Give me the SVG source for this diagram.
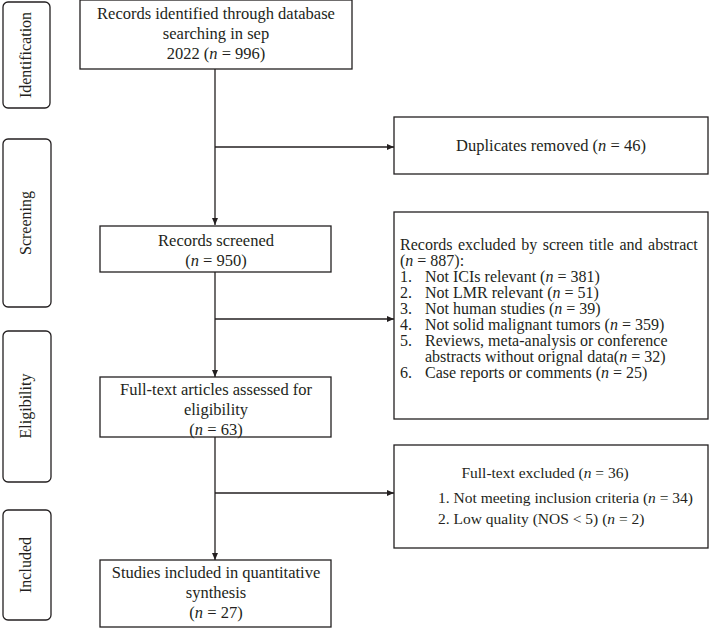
<svg xmlns="http://www.w3.org/2000/svg" width="709" height="628" viewBox="0 0 709 628" font-family="'Liberation Serif', 'Times New Roman', serif">
<style>
.box{fill:#fff;stroke:#231f20;stroke-width:1.3}
.side{fill:#fff;stroke:#231f20;stroke-width:1.3}
text{font-family:'Liberation Serif','Times New Roman',serif;font-size:16.5px;fill:#231f20}
.c{text-anchor:middle}
.i{font-style:italic}
.sm{font-size:15.5px}
.sd{font-size:16px}
.ex{font-size:16px}
.ln{stroke:#231f20;stroke-width:1.3;fill:none}
</style>
<defs>
<marker id="ah" markerWidth="8" markerHeight="8" refX="7" refY="4" orient="auto" markerUnits="userSpaceOnUse">
<path d="M0,1 L7,4 L0,7 Z" fill="#231f20"/>
</marker>
</defs>
<rect width="709" height="628" fill="#fff"/>
<g id="side-identification">
<rect class="side" x="3" y="2" width="47" height="106" rx="5"/>
<text class="c sd" transform="translate(31,55) rotate(-90)">Identification</text>
</g>
<g id="side-screening">
<rect class="side" x="3" y="139" width="48" height="168" rx="5"/>
<text class="c sd" transform="translate(31,223) rotate(-90)">Screening</text>
</g>
<g id="side-eligibility">
<rect class="side" x="3" y="331" width="48" height="151" rx="5"/>
<text class="c sd" transform="translate(31,406) rotate(-90)">Eligibility</text>
</g>
<g id="side-included">
<rect class="side" x="3" y="510" width="48" height="110" rx="5"/>
<text class="c sd" transform="translate(31,565) rotate(-90)">Included</text>
</g>
<g id="connectors">
<line class="ln" x1="215" y1="69" x2="215" y2="225" marker-end="url(#ah)"/>
<line class="ln" x1="215" y1="147" x2="394" y2="147" marker-end="url(#ah)"/>
<line class="ln" x1="215" y1="272" x2="215" y2="377" marker-end="url(#ah)"/>
<line class="ln" x1="215" y1="319" x2="394" y2="319" marker-end="url(#ah)"/>
<line class="ln" x1="215" y1="437" x2="215" y2="560" marker-end="url(#ah)"/>
<line class="ln" x1="215" y1="493" x2="394" y2="493" marker-end="url(#ah)"/>
</g>
<g id="records-identified">
<rect class="box" x="80" y="0" width="272" height="69"/>
<text class="c" x="216" y="19">Records identified through database</text>
<text class="c" x="216" y="39">searching in sep</text>
<text class="c" x="216" y="59">2022 (<tspan class="i">n</tspan> = 996)</text>
</g>
<g id="duplicates">
<rect class="box" x="394" y="117" width="314" height="57"/>
<text class="c" x="551" y="151">Duplicates removed (<tspan class="i">n</tspan> = 46)</text>
</g>
<g id="records-screened">
<rect class="box" x="100" y="226" width="231" height="46"/>
<text class="c" x="216" y="246">Records screened</text>
<text class="c" x="216" y="266">(<tspan class="i">n</tspan> = 950)</text>
</g>
<g id="records-excluded">
<rect class="box" x="394" y="212" width="314" height="207"/>
<text class="ex" x="400" y="250" word-spacing="1.5">Records excluded by screen title and abstract</text>
<text class="ex" x="400" y="266">(<tspan class="i">n</tspan> = 887):</text>
<text class="ex" x="400" y="282">1.</text><text class="ex" x="425" y="282">Not ICIs relevant (<tspan class="i">n</tspan> = 381)</text>
<text class="ex" x="400" y="298">2.</text><text class="ex" x="425" y="298">Not LMR relevant (<tspan class="i">n</tspan> = 51)</text>
<text class="ex" x="400" y="314">3.</text><text class="ex" x="425" y="314">Not human studies (<tspan class="i">n</tspan> = 39)</text>
<text class="ex" x="400" y="330">4.</text><text class="ex" x="425" y="330">Not solid malignant tumors (<tspan class="i">n</tspan> = 359)</text>
<text class="ex" x="400" y="346">5.</text><text class="ex" x="425" y="346">Reviews, meta-analysis or conference</text>
<text class="ex" x="425" y="362">abstracts without orignal data(<tspan class="i">n</tspan> = 32)</text>
<text class="ex" x="400" y="378">6.</text><text class="ex" x="425" y="378">Case reports or comments (<tspan class="i">n</tspan> = 25)</text>
</g>
<g id="fulltext-assessed">
<rect class="box" x="100" y="377" width="231" height="60"/>
<text class="c" x="216" y="395">Full-text articles assessed for</text>
<text class="c" x="216" y="415">eligibility</text>
<text class="c" x="216" y="435">(<tspan class="i">n</tspan> = 63)</text>
</g>
<g id="fulltext-excluded">
<rect class="box" x="394" y="445" width="314" height="103"/>
<text class="c sm" x="545" y="478">Full-text excluded (<tspan class="i">n</tspan> = 36)</text>
<text class="sm" x="438" y="503">1. Not meeting inclusion criteria (<tspan class="i">n</tspan> = 34)</text>
<text class="sm" x="438" y="524">2. Low quality (NOS &lt; 5) (<tspan class="i">n</tspan> = 2)</text>
</g>
<g id="studies-included">
<rect class="box" x="100" y="560" width="231" height="67"/>
<text class="c" x="216" y="578">Studies included in quantitative</text>
<text class="c" x="216" y="598">synthesis</text>
<text class="c" x="216" y="618">(<tspan class="i">n</tspan> = 27)</text>
</g>
</svg>
